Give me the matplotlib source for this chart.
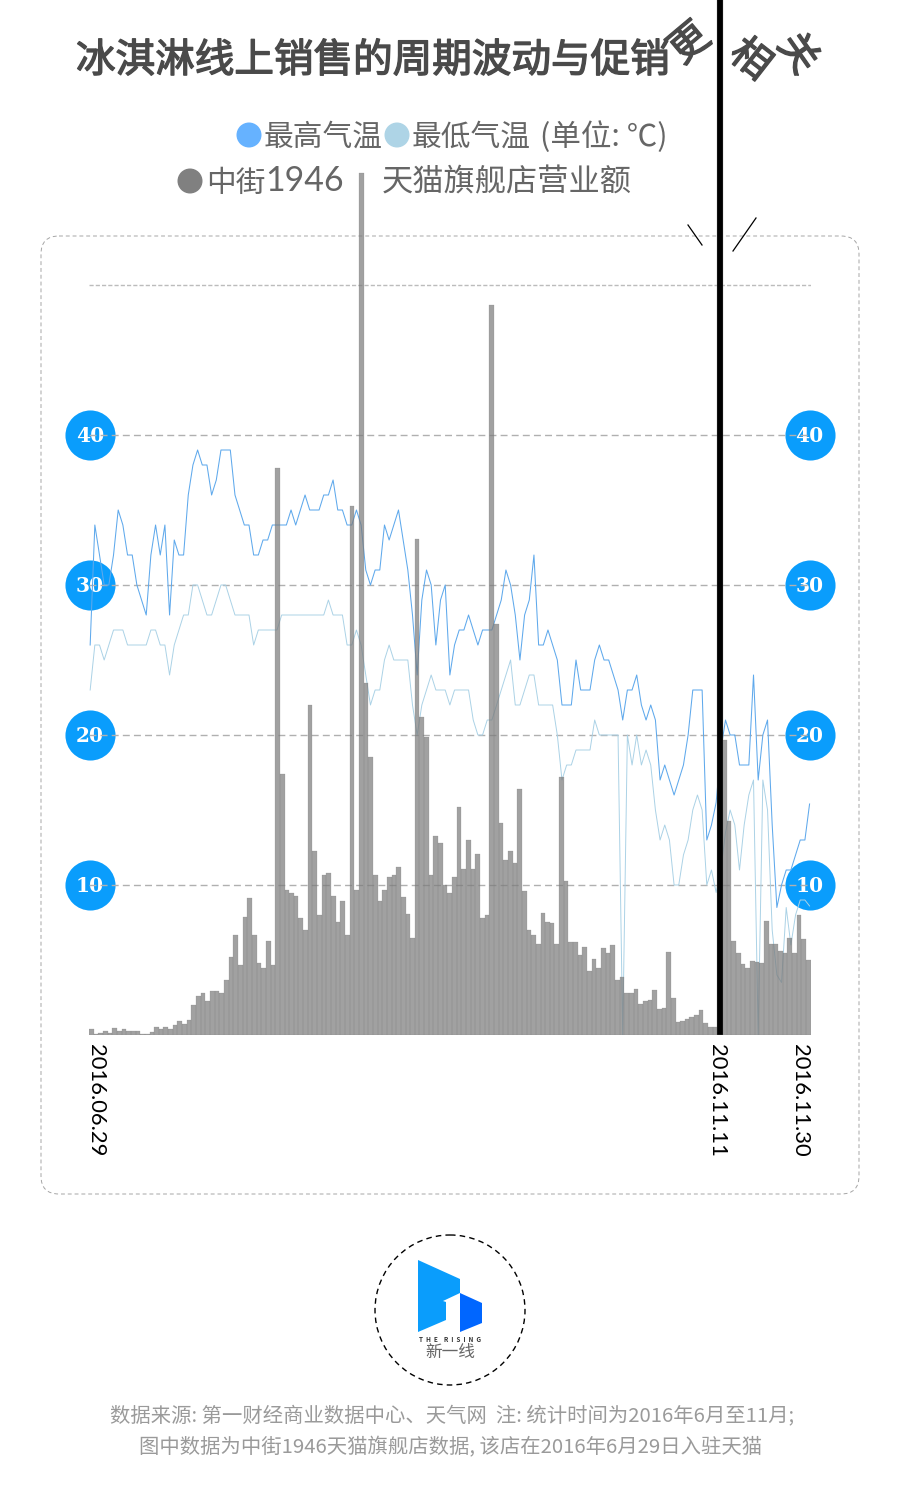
import matplotlib
matplotlib.use('Agg')
import matplotlib.pyplot as plt
import matplotlib.patheffects as pe
import numpy as np
from matplotlib.patches import FancyBboxPatch, Polygon, Circle

plt.rcParams['font.family'] = ['Noto Sans CJK SC', 'DejaVu Sans']

W, H = 900, 1495

# sales per day, 2016.06.29 - 2016.11.30 (index 135 = 11.11, runs off the top)
sales = [0.4, 0.1, 0.15, 0.27, 0.13, 0.48, 0.3, 0.4, 0.24, 0.3, 0.3, 0.05, 0.1, 0.2, 0.55, 0.43,
         0.53, 0.43, 0.65, 0.94, 0.75, 1.0, 2.0, 2.63, 2.8, 2.25, 2.95, 2.92, 2.8, 3.65,
         5.2, 6.7, 4.7, 7.85, 9.15, 6.65, 4.8, 4.45, 6.3, 4.65, 37.8, 17.4, 9.7, 9.5, 9.3,
         7.8, 7.0, 22.0, 12.3, 8.0, 10.7, 10.8, 9.25, 7.55, 8.95, 6.65, 35.3, 9.65, 57.5,
         23.5, 18.55, 10.7, 8.95, 9.65, 10.55, 10.7, 11.2, 9.2, 8.1, 6.5, 33.1, 21.2, 19.9,
         10.7, 13.3, 12.8, 10.0, 9.45, 10.55, 15.2, 11.1, 13.0, 11.05, 12.05, 7.8, 8.0, 48.7,
         27.4, 14.15, 11.7, 12.3, 11.45, 16.4, 9.6, 7.0, 6.65, 6.1, 8.15, 7.55, 7.5, 6.05,
         17.2, 10.25, 6.2, 6.2, 5.35, 5.9, 4.25, 5.05, 4.45, 5.8, 5.45, 6.0, 3.65, 3.9,
         2.8, 2.8, 3.05, 2.1, 2.25, 2.35, 3.0, 1.75, 1.8, 5.55, 2.45, 0.87, 0.95, 1.05, 1.2,
         1.35, 1.65, 0.78, 0.55, 0.53, 75, 19.65, 14.3, 6.3, 5.45, 4.75, 4.5, 4.95, 4.85, 4.8,
         7.6, 6.05, 6.05, 5.6, 5.5, 6.45, 5.5, 8.0, 6.4, 5.0]

temp_high = [26, 34, 32, 30, 30, 32, 35, 34, 32, 32, 30, 29, 28, 32, 34, 32, 34, 28, 33, 32, 32,
             36, 38, 39, 38, 38, 36, 37, 39, 39, 39, 36, 35, 34, 34, 32, 32, 33, 33, 34, 34, 34,
             34, 35, 34, 35, 36, 35, 35, 35, 36, 36, 37, 35, 35, 34, 34, 35, 34, 31, 30, 31, 31,
             34, 33, 34, 35, 33, 31, 28, 24, 29, 31, 30, 26, 29, 30, 24, 26, 27, 27, 28, 27, 26,
             27, 27, 27, 28, 29, 31, 30, 28, 25, 28, 29, 32, 26, 26, 27, 26, 25, 22, 22, 22, 25,
             23, 23, 23, 25, 26, 25, 25, 24, 23, 21, 23, 23, 24, 22, 21, 22, 21, 17, 18, 17, 16,
             17, 18, 20, 23, 23, 23, 13, 14, 15.5, 19, 21, 20, 20, 18, 18, 18, 24, 17, 20, 21,
             14, 8.5, 10, 11, 11, 12, 13, 13, 15.4]

temp_low = [23, 26, 26, 25, 26, 27, 27, 27, 26, 26, 26, 26, 26, 27, 27, 26, 26, 24, 26, 27, 28,
            28, 30, 30, 29, 28, 28, 29, 30, 30, 29, 28, 28, 28, 28, 26, 27, 27, 27, 27, 27, 28,
            28, 28, 28, 28, 28, 28, 28, 28, 28, 29, 28, 28, 28, 26, 26, 27, 26, 24, 22, 23, 23,
            25, 26, 25, 25, 25, 25, 22, 20, 22, 23, 24, 23, 23, 23, 22, 23, 23, 23, 23, 21, 20,
            20, 21, 21, 22, 23, 24, 25, 22, 22, 23, 24, 24, 22, 22, 22, 22, 20, 17, 18, 18, 19,
            19, 19, 19, 21, 20, 20, 20, 20, 20, 0, 20, 18, 20, 18, 19, 18, 15, 13, 14, 13, 10,
            10, 12, 13, 15, 16, 15, 10, 11, 9.5, 11, 13.5, 15, 14, 11, 14, 16, 17, 0, 17, 15,
            7, 4, 3.5, 8.5, 6, 8, 9, 9, 8.6]

y_levels = [10, 20, 30, 40]
date_labels = ['2016.06.29', '2016.11.11', '2016.11.30']


def main():
    fig = plt.figure(figsize=(W / 100, H / 100), dpi=100)

    # pixel layer for panel, legend, title, logo
    bg = fig.add_axes([0, 0, 1, 1], zorder=0)
    bg.set_xlim(0, W)
    bg.set_ylim(H, 0)
    bg.axis('off')

    # chart layer: x=0 at px 89, y=0 at px 1035, 15 px per unit
    ax = fig.add_axes([89 / W, (H - 1035) / H, 721.5 / W, 1035 / H], zorder=1)
    ax.patch.set_alpha(0)
    ax.set_xlim(0, 155)
    ax.set_ylim(0, 69)
    ax.axis('off')

    panel = FancyBboxPatch((56, 251), 788, 928, boxstyle='round,pad=15,rounding_size=18',
                           fc='none', ec='#a5a5a5', lw=0.7, ls=(0, (4, 3)))
    bg.add_patch(panel)

    # badges
    for v in y_levels:
        for x in [0.2, 154.8]:
            ax.scatter([x], [v], s=1300, color='#0a9dfc', lw=0, clip_on=False, zorder=1)
            ax.text(x, v - 0.05, str(v), color='white', fontsize=14.5, fontweight='bold', family='DejaVu Serif',
                    ha='center', va='center', zorder=2, clip_on=False)
    ax.hlines(y_levels, 0, 155, color='#b0b0b0', lw=1.0, ls=(0, (5, 3)), zorder=3, clip_on=False)
    ax.hlines([50], 0, 155, color='#bcbcbc', lw=1.0, ls=(0, (3, 1.5)), zorder=3)

    # the lines run edge to edge, the bars sit in day slots
    xs = [i + 0.5 for i in range(len(sales))]
    line_xs = np.linspace(0.25, 154.8, len(sales))
    ax.plot(line_xs, temp_high, color='#5fa9ec', lw=0.75, zorder=4)
    ax.plot(line_xs, temp_low, color='#abd2e6', lw=0.7, zorder=4)

    colors = ['#000000' if v > 69 else '#7a7a7a' for v in sales]
    bars = ax.bar(xs, sales, width=1.0, color=colors, alpha=0.7, edgecolor='#808080', lw=0.2, zorder=5)
    bars[135].set_alpha(1)
    bars[135].set_zorder(6)
    bars[135].set_width(1.15)

    # title, regular weight thickened a bit
    thick = [pe.withStroke(linewidth=1.0, foreground='#4a4a4a')]
    title_style = dict(fontsize=28.5, color='#4a4a4a', va='center', path_effects=thick)
    bg.text(76, 61, '冰淇淋线上销售的周期波动与促销', ha='left', **title_style)
    bg.text(690, 44, '更', ha='center', rotation=40, **title_style)
    bg.text(750, 60, '相', ha='center', rotation=-38, **title_style)
    bg.text(797, 54, '关', ha='center', rotation=-55, **title_style)
    bg.plot([688, 702], [225, 245], color='black', lw=0.9)
    bg.plot([733, 756], [251, 218], color='black', lw=0.9)

    # legend
    for cx, cy, c in [(249, 135, '#66b2ff'), (397, 135, '#aed4e6'), (190, 181, '#808080')]:
        bg.add_patch(Circle((cx, cy), 12.5, fc=c, ec='none'))
    legend_style = dict(fontsize=21.4, fontweight='light', color='#666666', va='center', ha='left')
    bg.text(264, 137, '最高气温', **legend_style)
    bg.text(412, 137, '最低气温', **legend_style)
    bg.text(540, 137, '(单位: ℃)', fontsize=22, fontweight='light', color='#666666', va='center', ha='left')
    bg.text(206, 183, '中街', **legend_style)
    bg.text(265, 181, '1946', family='Lato', fontsize=24.5, color='#666666', va='center', ha='left')
    bg.text(382, 183, '天猫旗舰店营业额', fontsize=22.5, fontweight='light', color='#666666',
            va='center', ha='left')

    # date labels
    for x, s in zip([96, 717, 800], date_labels):
        bg.text(x, 1044, s, rotation=-90, family='Lato', fontsize=15.8, color='black',
                ha='center', va='top')

    # logo
    bg.add_patch(Circle((450, 1310), 75, fc='none', ec='black', lw=1, ls=(0, (4, 3))))
    bg.add_patch(Polygon([(418, 1260), (460, 1279), (460, 1293), (443, 1301), (446, 1302),
                          (446, 1320), (418, 1332)], fc='#0a9dfc', ec='none'))
    bg.add_patch(Polygon([(460, 1293), (482, 1303), (482, 1323), (460, 1332)], fc='#0066ff', ec='none'))
    bg.text(450, 1340, 'T  H  E    R  I  S  I  N  G', fontsize=4.6, fontweight='bold', color='#333333',
            ha='center', va='center')
    bg.text(450, 1353, '新一线', fontsize=12, fontweight='light', color='#666666', ha='center', va='center')

    # source
    note_style = dict(fontsize=14.65, fontweight='light', color='#9a9a9a', ha='center', va='center')
    bg.text(452, 1417, '数据来源: 第一财经商业数据中心、天气网  注: 统计时间为2016年6月至11月;', **note_style)
    bg.text(451, 1448, '图中数据为中街1946天猫旗舰店数据, 该店在2016年6月29日入驻天猫', **note_style)

    fig.savefig('out.png', dpi=100)


if __name__ == "__main__":
    main()
